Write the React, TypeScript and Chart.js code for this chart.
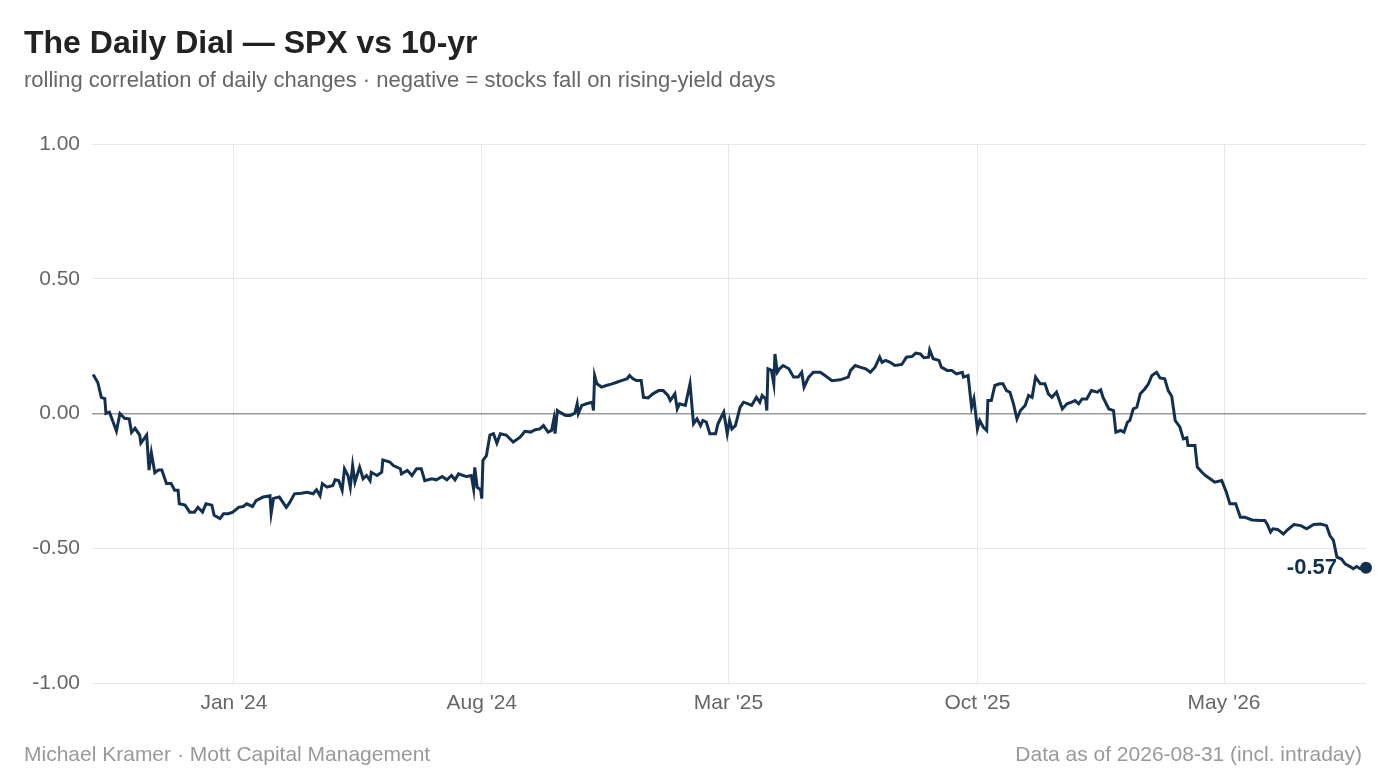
import React, { useEffect, useRef } from "react";
import { Chart, registerables } from "chart.js";

Chart.register(...registerables);

// ---- data ----
const START_DATE = "2023-09-01";
const END_DATE = "2026-08-31";
const tickDates = ["2024-01-01", "2024-08-01", "2025-03-01", "2025-10-01", "2026-05-01"];
const tickLabels = ["Jan '24", "Aug '24", "Mar '25", "Oct '25", "May '26"];
const yTicks = [-1, -0.5, 0, 0.5, 1];

// calendar days since START_DATE
const dayOffsets = [
  1, 5, 8, 11, 12, 15, 21, 24, 28, 32, 34, 37, 41, 42, 47, 49, 51, 54, 57, 60,
  64, 68, 71, 74, 75, 80, 84, 88, 91, 95, 98, 103, 105, 110, 113, 117, 121, 126, 130, 133,
  138, 141, 147, 153, 154, 156, 161, 167, 170, 174, 180, 185, 190, 193, 196, 198, 202, 207, 209, 212,
  215, 217, 220, 222, 224, 226, 230, 233, 236, 239, 240, 245, 249, 250, 256, 259, 265, 266, 271, 275,
  279, 283, 286, 292, 296, 301, 305, 309, 312, 315, 319, 322, 326, 328, 329, 331, 334, 335, 336, 339,
  342, 345, 348, 351, 356, 362, 368, 372, 377, 381, 385, 388, 392, 395, 397, 398, 400, 402, 407, 411,
  415, 417, 418, 421, 425, 430, 431, 432, 434, 438, 442, 447, 451, 455, 460, 462, 465, 468, 472, 474,
  478, 482, 487, 491, 495, 497, 501, 503, 505, 510, 514, 517, 520, 523, 525, 528, 531, 536, 538, 543,
  546, 548, 550, 553, 557, 560, 564, 567, 571, 574, 576, 579, 580, 581, 584, 586, 587, 589, 591, 594,
  599, 603, 607, 610, 612, 616, 620, 626, 630, 636, 643, 650, 652, 656, 660, 665, 669, 673, 677, 679,
  682, 686, 690, 696, 700, 705, 708, 712, 715, 719, 720, 723, 728, 730, 735, 739, 743, 748, 749, 753,
  756, 758, 761, 763, 766, 769, 770, 773, 776, 780, 783, 786, 789, 792, 795, 798, 802, 805, 808, 811,
  815, 819, 822, 825, 829, 834, 838, 842, 845, 848, 851, 855, 859, 864, 867, 869, 874, 878, 880, 884,
  887, 890, 892, 895, 898, 901, 905, 908, 911, 915, 918, 922, 925, 928, 931, 935, 938, 941, 942, 948,
  950, 954, 957, 961, 965, 971, 975, 978, 983, 987, 991, 997, 1004, 1008, 1010, 1013, 1015, 1019, 1024, 1027,
  1033, 1039, 1044, 1050, 1056, 1061, 1064, 1067, 1070, 1074, 1077, 1082, 1084, 1087, 1090, 1095,
];

const correlation = [
  0.145, 0.115, 0.06, 0.055, 0.0, 0.005, -0.065, 0.0, -0.018, -0.02, -0.07, -0.055, -0.08, -0.11, -0.08, -0.21, -0.145, -0.22, -0.21, -0.21,
  -0.26, -0.26, -0.285, -0.285, -0.335, -0.34, -0.366, -0.366, -0.348, -0.366, -0.335, -0.34, -0.378, -0.39, -0.372, -0.372, -0.366, -0.348, -0.345, -0.335,
  -0.345, -0.323, -0.31, -0.305, -0.37, -0.315, -0.31, -0.348, -0.33, -0.298, -0.296, -0.292, -0.298, -0.283, -0.305, -0.26, -0.273, -0.267, -0.246, -0.249,
  -0.285, -0.205, -0.23, -0.273, -0.193, -0.255, -0.199, -0.242, -0.23, -0.249, -0.218, -0.23, -0.218, -0.172, -0.18, -0.193, -0.205, -0.224, -0.211, -0.23,
  -0.205, -0.205, -0.249, -0.242, -0.246, -0.234, -0.246, -0.23, -0.246, -0.224, -0.23, -0.234, -0.23, -0.28, -0.2, -0.273, -0.283, -0.316, -0.174, -0.156,
  -0.08, -0.075, -0.11, -0.075, -0.08, -0.106, -0.088, -0.066, -0.069, -0.06, -0.057, -0.045, -0.069, -0.063, -0.02, -0.075, 0.011, 0.005, -0.007, -0.007,
  0.001, 0.036, 0.0, 0.03, 0.036, 0.042, 0.011, 0.141, 0.11, 0.098, 0.104, 0.11, 0.116, 0.122, 0.129, 0.141, 0.129, 0.122, 0.122, 0.06,
  0.058, 0.073, 0.085, 0.085, 0.067, 0.048, 0.073, 0.017, 0.036, 0.03, 0.11, -0.038, -0.02, -0.045, -0.026, -0.032, -0.075, -0.075, -0.038, 0.005,
  -0.075, -0.026, -0.057, -0.045, 0.023, 0.042, 0.036, 0.03, 0.06, 0.042, 0.067, 0.054, 0.011, 0.166, 0.16, 0.11, 0.221, 0.153, 0.166, 0.178,
  0.166, 0.135, 0.135, 0.153, 0.098, 0.135, 0.153, 0.153, 0.141, 0.122, 0.125, 0.135, 0.16, 0.178, 0.172, 0.166, 0.153, 0.172, 0.209, 0.19,
  0.197, 0.19, 0.178, 0.182, 0.209, 0.212, 0.224, 0.221, 0.207, 0.209, 0.236, 0.203, 0.197, 0.172, 0.16, 0.16, 0.147, 0.153, 0.135, 0.141,
  0.023, 0.055, -0.057, -0.026, -0.05, -0.063, 0.048, 0.048, 0.104, 0.11, 0.11, 0.085, 0.079, 0.036, -0.02, 0.011, 0.03, 0.067, 0.06, 0.135,
  0.11, 0.11, 0.073, 0.06, 0.079, 0.017, 0.036, 0.042, 0.048, 0.036, 0.054, 0.054, 0.085, 0.079, 0.088, 0.06, 0.017, 0.011, -0.069, -0.063,
  -0.069, -0.032, -0.026, 0.017, 0.023, 0.073, 0.092, 0.11, 0.141, 0.153, 0.132, 0.129, 0.085, 0.064, -0.026, -0.05, -0.094, -0.09, -0.119, -0.119,
  -0.199, -0.218, -0.23, -0.242, -0.255, -0.249, -0.292, -0.335, -0.335, -0.385, -0.385, -0.395, -0.397, -0.397, -0.41, -0.44, -0.428, -0.43, -0.447, -0.434,
  -0.412, -0.416, -0.428, -0.412, -0.41, -0.416, -0.453, -0.471, -0.533, -0.54, -0.558, -0.57, -0.576, -0.568, -0.576, -0.572,
];

const TITLE = "The Daily Dial \u2014 SPX vs 10-yr";
const SUBTITLE = "rolling correlation of daily changes \u00b7 negative = stocks fall on rising-yield days";
const FOOTER_LEFT = "Michael Kramer \u00b7 Mott Capital Management";
const FOOTER_RIGHT = "Data as of 2026-08-31 (incl. intraday)";

// ---- style ----
const NAVY = "#13304e";
const FONT = "'Liberation Sans', Arial, Helvetica, sans-serif";
const W = 1386;
const H = 780;

const daysBetween = (a: string, b: string) => (Date.parse(b) - Date.parse(a)) / 86400000;

const endLabelPlugin = {
  id: "endLabel",
  afterDatasetsDraw(chart: any) {
    const meta = chart.getDatasetMeta(0);
    const pt = meta.data[meta.data.length - 1];
    if (!pt) return;
    const v = correlation[correlation.length - 1];
    const ctx = chart.ctx;
    ctx.save();
    ctx.font = `bold 22px ${FONT}`;
    ctx.fillStyle = NAVY;
    ctx.textAlign = "right";
    ctx.textBaseline = "middle";
    ctx.fillText(v.toFixed(2), pt.x - 29, pt.y);
    ctx.restore();
  },
};

export default function App() {
  const ref = useRef<HTMLCanvasElement | null>(null);

  useEffect(() => {
    if (!ref.current) return;
    Chart.defaults.font.family = FONT;
    const last = correlation.length - 1;
    const tickVals = tickDates.map((d) => daysBetween(START_DATE, d));
    const chart = new Chart(ref.current, {
      type: "line",
      data: {
        datasets: [
          {
            data: dayOffsets.map((d, i) => ({ x: d, y: correlation[i] })),
            borderColor: NAVY,
            backgroundColor: NAVY,
            borderWidth: 3,
            pointRadius: (c: any) => (c.dataIndex === last ? 6 : 0),
            pointHoverRadius: 0,
            pointBorderWidth: 0,
            pointBackgroundColor: NAVY,
            tension: 0,
            fill: false,
            clip: false,
          },
        ],
      },
      options: {
        animation: false,
        responsive: false,
        events: [],
        layout: { padding: { top: 144, right: 20, bottom: 57, left: 0 } },
        plugins: { legend: { display: false }, tooltip: { enabled: false } },
        scales: {
          x: {
            type: "linear",
            min: 0,
            max: daysBetween(START_DATE, END_DATE),
            afterBuildTicks: (s: any) => {
              s.ticks = tickVals.map((v) => ({ value: v }));
            },
            afterFit: (s: any) => {
              s.height = 40;
            },
            ticks: {
              autoSkip: false,
              maxRotation: 0,
              padding: 8,
              color: "#666",
              font: { size: 21, family: FONT },
              callback: (v: any) => {
                const i = tickVals.indexOf(Number(v));
                return i >= 0 ? tickLabels[i] : "";
              },
            },
            grid: { color: "#e8e8e8", lineWidth: 1, drawTicks: false },
            border: { display: false },
          },
          y: {
            type: "linear",
            min: -1,
            max: 1,
            afterBuildTicks: (s: any) => {
              s.ticks = yTicks.map((v) => ({ value: v }));
            },
            afterFit: (s: any) => {
              s.width = 92;
            },
            ticks: {
              padding: 12,
              color: "#666",
              font: { size: 21, family: FONT },
              callback: (v: any) => Number(v).toFixed(2),
            },
            grid: {
              color: (c: any) => (c.tick && c.tick.value === 0 ? "#999" : "#e6e6e6"),
              lineWidth: (c: any) => (c.tick && c.tick.value === 0 ? 1.6 : 1),
              drawTicks: false,
            },
            border: { display: false },
          },
        },
      },
      plugins: [endLabelPlugin],
    } as any);
    return () => chart.destroy();
  }, []);

  const text = (extra: React.CSSProperties): React.CSSProperties => ({
    position: "absolute",
    fontFamily: FONT,
    lineHeight: 1,
    whiteSpace: "nowrap",
    ...extra,
  });

  return (
    <div style={{ position: "fixed", left: 0, top: 0, width: W, height: H, background: "#fff", overflow: "hidden" }}>
      <canvas ref={ref} width={W} height={H} style={{ position: "absolute", left: 0, top: 0, width: W, height: H }} />
      <div style={text({ left: 24, top: 26, fontSize: 32, fontWeight: 700, color: "#222" })}>{TITLE}</div>
      <div style={text({ left: 24, top: 69, fontSize: 22, color: "#666" })}>{SUBTITLE}</div>
      <div style={text({ left: 24, top: 743, fontSize: 21, color: "#999" })}>{FOOTER_LEFT}</div>
      <div style={text({ right: 24, top: 743, fontSize: 21, color: "#999" })}>{FOOTER_RIGHT}</div>
    </div>
  );
}
